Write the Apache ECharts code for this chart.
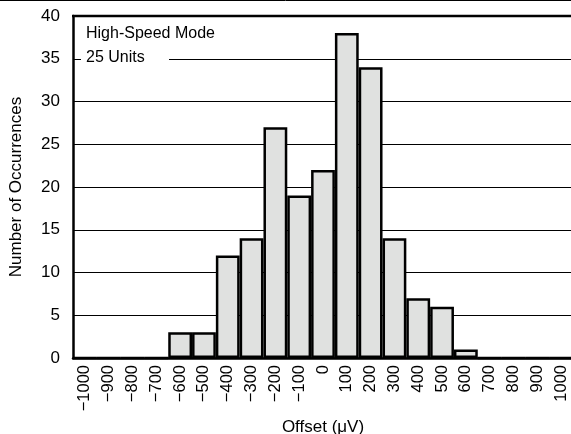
<!DOCTYPE html>
<html>
<head>
<meta charset="utf-8">
<script src="https://cdn.jsdelivr.net/npm/echarts@6/dist/echarts.min.js"></script>
<style>
  html, body { margin: 0; padding: 0; background: #fff; }
  #chart { width: 571px; height: 434px; }
</style>
</head>
<body>
<div id="chart"></div>
<script>
// bins labelled by their lower edge (uV)
const offsetLabels = ["\u22121000", "\u2212900", "\u2212800", "\u2212700", "\u2212600", "\u2212500",
  "\u2212400", "\u2212300", "\u2212200", "\u2212100", "0", "100", "200", "300", "400", "500",
  "600", "700", "800", "900", "1000"];
const occurrences = [0, 0, 0, 0, 3, 3, 12, 14, 27, 19, 22, 38, 34, 14, 7, 6, 1, 0, 0, 0, 0];
const yTicks = { min: 0, max: 40, step: 5 };

const font = "Liberation Sans, Arial, sans-serif";

const chart = echarts.init(document.getElementById("chart"));
chart.setOption({
  animation: false,
  grid: {
    left: 73,
    right: -2,
    top: 16,
    bottom: 76,
    outerBoundsMode: "none"
  },
  xAxis: {
    type: "category",
    data: offsetLabels,
    boundaryGap: true,
    name: "Offset (\u03bcV)",
    nameLocation: "middle",
    nameGap: 55,
    nameTextStyle: { color: "#000", fontSize: 17, fontFamily: font, verticalAlign: "top" },
    axisLine: { lineStyle: { color: "#000", width: 2.5 } },
    axisTick: { inside: true, length: 7, lineStyle: { color: "#000", width: 1.5 } },
    axisLabel: {
      rotate: 90,
      interval: 0,
      margin: 7,
      color: "#000",
      fontSize: 16.5,
      fontFamily: font
    },
    splitLine: { show: false }
  },
  yAxis: {
    type: "value",
    min: yTicks.min,
    max: yTicks.max,
    interval: yTicks.step,
    name: "Number of Occurrences",
    nameLocation: "middle",
    nameGap: 48,
    nameTextStyle: { color: "#000", fontSize: 17, fontFamily: font },
    axisLine: { show: true, lineStyle: { color: "#000", width: 2.5 } },
    axisTick: { show: true, inside: true, length: 7, lineStyle: { color: "#000", width: 1 } },
    axisLabel: { color: "#000", fontSize: 17, fontFamily: font, margin: 13 },
    splitLine: { show: true, lineStyle: { color: "#000", width: 1 } }
  },
  series: [
    {
      type: "bar",
      data: occurrences,
      barCategoryGap: "0%",
      itemStyle: { color: "#e0e1e0", borderColor: "#000", borderWidth: 2.5 }
    }
  ],
  graphic: [
    { type: "line", shape: { x1: 0, y1: 0.5, x2: 571, y2: 0.5 }, style: { stroke: "#000", lineWidth: 1 } },
    { type: "line", shape: { x1: 72, y1: 16, x2: 571, y2: 16 }, style: { stroke: "#000", lineWidth: 2.5 }, z: 10 },
    { type: "rect", shape: { x: 81, y: 20, width: 88, height: 50 }, style: { fill: "#fff" }, z: 5 },
    { type: "text", left: 86, top: 26, style: { text: "High-Speed Mode", fill: "#000", fontSize: 16, fontFamily: font }, z: 6 },
    { type: "text", left: 86, top: 50, style: { text: "25 Units", fill: "#000", fontSize: 16, fontFamily: font }, z: 6 }
  ]
});
</script>
</body>
</html>
